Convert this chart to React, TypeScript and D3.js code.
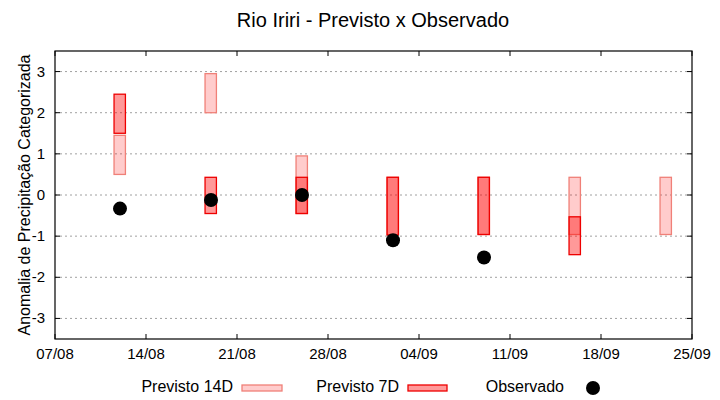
import React from 'react';
import * as d3 from 'd3';

const YEAR = '2023';

const tickLabels = ['07/08', '14/08', '21/08', '28/08', '04/09', '11/09', '18/09', '25/09'];
const yTicks = [-3, -2, -1, 0, 1, 2, 3];

// Previsto 14D: faixa categorizada (inferior / superior)
const prev14Dates = ['12/08', '19/08', '26/08', '02/09', '09/09', '16/09', '23/09'];
const prev14Low = [0.5, 2.0, -0.45, -0.97, -0.96, -0.96, -0.96];
const prev14High = [1.45, 2.95, 0.95, 0.43, 0.43, 0.43, 0.43];

// Previsto 7D
const prev7Dates = ['12/08', '19/08', '26/08', '02/09', '09/09', '16/09'];
const prev7Low = [1.5, -0.45, -0.45, -0.97, -0.96, -1.45];
const prev7High = [2.45, 0.43, 0.43, 0.43, 0.43, -0.53];

// Observado
const obsDates = ['12/08', '19/08', '26/08', '02/09', '09/09'];
const obsValues = [-0.33, -0.12, 0.0, -1.1, -1.52];

const parse = d3.timeParse('%d/%m/%Y');
const toDate = (s: string) => parse(`${s}/${YEAR}`) as Date;

const W = 720;
const H = 400;
const margin = { left: 55, right: 28, top: 51, bottom: 61 };

export default function App() {
  const x = d3
    .scaleTime()
    .domain([toDate(tickLabels[0]), toDate(tickLabels[tickLabels.length - 1])])
    .range([margin.left, W - margin.right]);
  const y = d3.scaleLinear().domain([-3.5, 3.5]).range([H - margin.bottom, margin.top]);

  const halfDay = (d: Date, k: number) => d3.timeHour.offset(d, k * 10.8);

  const boxes = (dates: string[], low: number[], high: number[]) =>
    dates.map((s, i) => {
      const d = toDate(s);
      const x0 = x(halfDay(d, -1));
      const x1 = x(halfDay(d, 1));
      return { x: x0, w: x1 - x0, y: y(high[i]), h: y(low[i]) - y(high[i]) };
    });

  const b14 = boxes(prev14Dates, prev14Low, prev14High);
  const b7 = boxes(prev7Dates, prev7Low, prev7High);

  const x0 = margin.left;
  const x1 = W - margin.right;
  const y0 = margin.top;
  const y1 = H - margin.bottom;
  const font = '"Liberation Sans", Arial, sans-serif';

  return (
    <svg width={W} height={H} style={{ position: 'absolute', left: 0, top: 0, background: '#fff' }} fontFamily={font}>
      <rect x={0} y={0} width={W} height={H} fill="#fff" />
      <text x={W / 2 + 13} y={27} textAnchor="middle" fontSize={20} fill="#000">
        Rio Iriri - Previsto x Observado
      </text>

      {/* grid + y ticks */}
      {yTicks.map((t) => (
        <g key={t}>
          <line x1={x0} x2={x1} y1={y(t)} y2={y(t)} stroke="#a0a0a0" strokeDasharray="2,3" strokeWidth={1} />
          <line x1={x0} x2={x0 + 5} y1={y(t)} y2={y(t)} stroke="#000" />
          <line x1={x1 - 5} x2={x1} y1={y(t)} y2={y(t)} stroke="#000" />
          <text x={45} y={y(t) + 5} textAnchor="end" fontSize={15} fill="#000">
            {t}
          </text>
        </g>
      ))}

      {/* x ticks */}
      {tickLabels.map((s) => {
        const px = x(toDate(s));
        return (
          <g key={s}>
            <line x1={px} x2={px} y1={y1} y2={y1 - 5} stroke="#000" />
            <line x1={px} x2={px} y1={y0} y2={y0 + 5} stroke="#000" />
            <text x={px} y={359} textAnchor="middle" fontSize={15} fill="#000">
              {s}
            </text>
          </g>
        );
      })}

      <text
        transform={`translate(30,${(y0 + y1) / 2}) rotate(-90)`}
        textAnchor="middle"
        fontSize={16}
        fill="#000"
      >
        Anomalia de Precipitação Categorizada
      </text>

      {b14.map((b, i) => (
        <rect key={`a${i}`} x={b.x} y={b.y} width={b.w} height={b.h} fill="rgba(255,0,0,0.2)" stroke="#f08078" strokeWidth={1.3} />
      ))}
      {b7.map((b, i) => (
        <rect key={`b${i}`} x={b.x} y={b.y} width={b.w} height={b.h} fill="rgba(255,0,0,0.4)" stroke="#ee0000" strokeWidth={1.3} />
      ))}
      {obsDates.map((s, i) => (
        <circle key={s} cx={x(toDate(s))} cy={y(obsValues[i])} r={7} fill="#000" />
      ))}

      <rect x={x0} y={y0} width={x1 - x0} height={y1 - y0} fill="none" stroke="#000" strokeWidth={1.2} />

      {/* legend */}
      <text x={233} y={392} textAnchor="end" fontSize={16} fill="#000">Previsto 14D</text>
      <rect x={242} y={385} width={40} height={6} fill="rgba(255,0,0,0.2)" stroke="#f08078" strokeWidth={1.3} />
      <text x={399} y={392} textAnchor="end" fontSize={16} fill="#000">Previsto 7D</text>
      <rect x={408} y={385} width={39} height={6} fill="rgba(255,0,0,0.4)" stroke="#ee0000" strokeWidth={1.3} />
      <text x={564} y={392} textAnchor="end" fontSize={16} fill="#000">Observado</text>
      <circle cx={593} cy={388} r={7} fill="#000" />
    </svg>
  );
}
